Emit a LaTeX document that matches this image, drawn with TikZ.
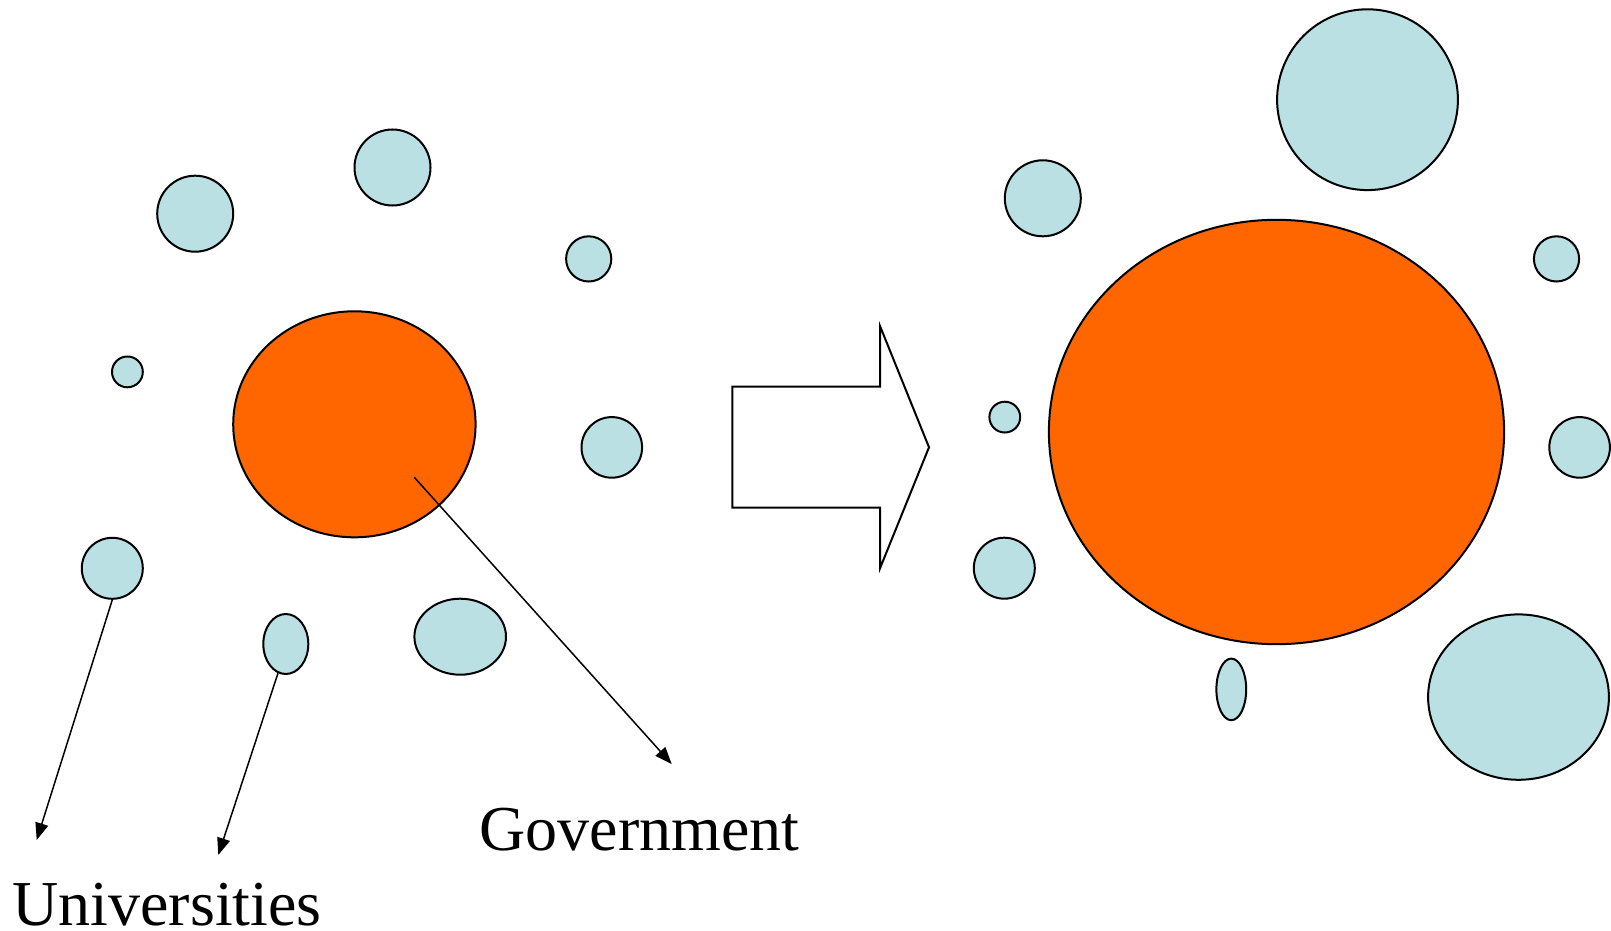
\documentclass[tikz,border=0pt]{standalone}
\usepackage{fontspec}
\setmainfont{Liberation Serif}
\usepackage[dvipsnames]{xcolor}
\usetikzlibrary{shapes.geometric,arrows.meta}

\definecolor{bubble}{HTML}{BBE0E3}
\definecolor{govcolor}{HTML}{FF6600}

\tikzset{
    blob/.style 2 args={ellipse, draw, line width=1pt, fill=bubble, inner sep=0pt,
        minimum width=#1pt, minimum height=#2pt},
    govblob/.style 2 args={blob={#1}{#2}, fill=govcolor},
    pointer/.style={-{Triangle[length=8.5pt,width=6.5pt]}, line width=0.75pt},
    bigtext/.style={inner sep=0pt, text depth=0pt, font=\fontsize{32}{36}\selectfont},
}

\begin{document}
\begin{tikzpicture}[x=0.5pt,y=-0.5pt]
    \useasboundingbox (0,0) rectangle (1611,931);

    %% Before

    % Bubbles round the government
    \node[blob={38}{38}] (uniA) at (195.2,213.7) {};
    \node[blob={38}{38}] (uniB) at (392.5,167.5) {};
    \node[blob={22.6}{22.6}] (uniC) at (588.7,258.9) {};
    \node[blob={15.4}{15.4}] (uniD) at (127.4,371.9) {};
    \node[blob={30.3}{30.3}] (uniE) at (611.8,447.4) {};
    \node[blob={30.5}{30.5}] (uniF) at (112.3,568.3) {};
    \node[blob={22.5}{30}] (uniG) at (285.8,644) {};
    \node[blob={45.8}{38}] (uniH) at (460.2,636.7) {};
    \node[govblob={121.2}{113}] (govL) at (354.4,424.3) {};

    % Captions and pointers
    \node[bigtext, anchor=base west] (uniText) at (12,925) {Universities};
    \node[bigtext, anchor=base west] (govText) at (479,850) {Government};
    \coordinate (govStart) at (414.3,477.3);
    \coordinate (uniFEnd) at (36.7,840);
    \coordinate (uniGEnd) at (218.3,855);
    \coordinate (govEnd) at (671.7,764);
    \draw[pointer] (uniF.south) -- (uniFEnd);
    \draw[pointer] (uniG.255) -- (uniGEnd);
    \draw[pointer] (govStart) -- (govEnd);

    %% Shift
    \draw[line width=1pt] (732.3,386.7) -- (880,386.7) -- (880,326) -- (929,447.3)
        -- (880,568.3) -- (880,507.7) -- (732.3,507.7) -- cycle;

    %% After
    \begin{scope}
        \node[blob={90.4}{90.4}] (uniR1) at (1367.5,99.7) {};
        \node[blob={38}{38}] (uniR2) at (1042.8,198.3) {};
        \node[blob={22.6}{22.6}] (uniR3) at (1556.5,258.9) {};
        \node[blob={15.4}{15.4}] (uniR4) at (1004.8,417.1) {};
        \node[blob={30.3}{30.3}] (uniR5) at (1579.6,447.4) {};
        \node[blob={30.5}{30.5}] (uniR6) at (1004.3,568.2) {};
        \node[blob={14.9}{30.8}] (uniR7) at (1231.3,689.4) {};
        \node[blob={90.4}{82.7}] (uniR8) at (1518.5,697.1) {};
        \node[govblob={227.6}{212.2}] (govR) at (1276.5,432) {};
    \end{scope}

\end{tikzpicture}
\end{document}
